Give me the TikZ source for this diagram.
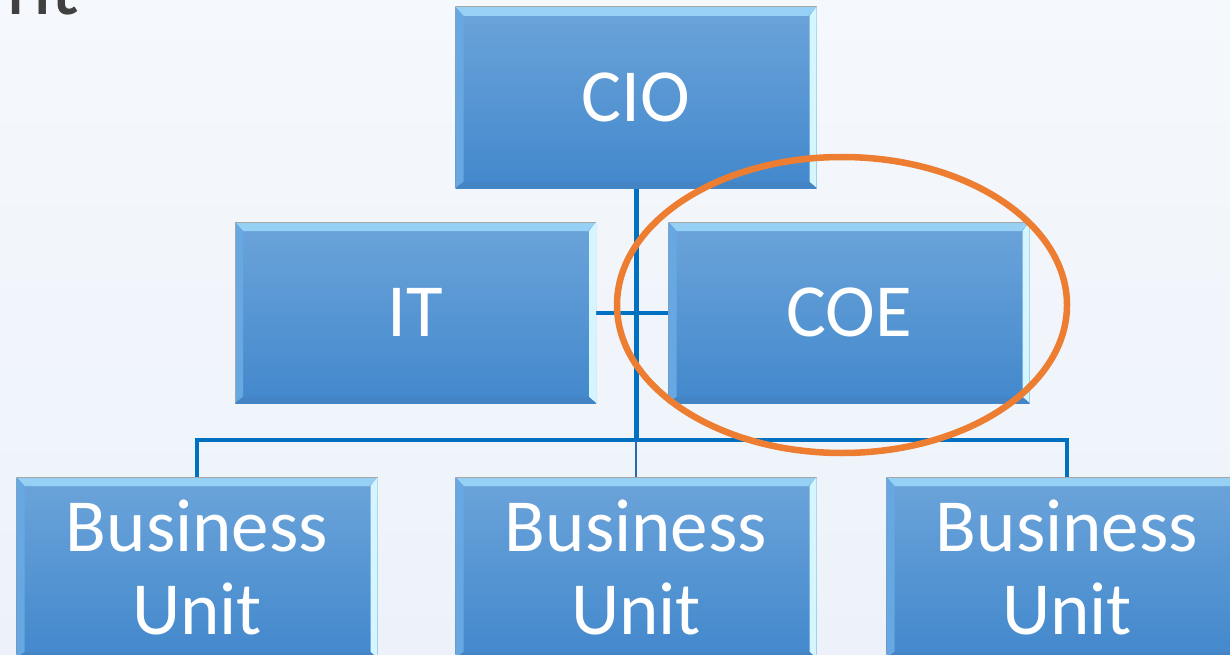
\documentclass[tikz,border=0pt]{standalone}
\usepackage{fontspec}
\setmainfont{Carlito}
\usetikzlibrary{calc}
\definecolor{bgtop}{RGB}{245,248,252}
\definecolor{bgbot}{RGB}{237,242,250}
\definecolor{boxtop}{RGB}{108,164,218}
\definecolor{boxbot}{RGB}{66,136,204}
\definecolor{bevtop}{RGB}{150,208,244}
\definecolor{bevleft}{RGB}{104,168,226}
\definecolor{bevright}{RGB}{214,246,255}
\definecolor{bevbot}{RGB}{68,132,196}
\definecolor{connblue}{RGB}{0,112,192}
\definecolor{dropblue}{RGB}{40,105,175}
\definecolor{ringorange}{RGB}{237,125,49}
\definecolor{titlegray}{RGB}{64,64,64}
\pgfdeclarelayer{bglayer}
\pgfdeclarelayer{connlayer}
\pgfsetlayers{bglayer,connlayer,main}
\tikzset{
  orgbox/.style={
    minimum width=361pt, minimum height=181pt, inner sep=0pt,
    top color=boxtop, bottom color=boxbot,
    text=white, align=center,
    font=\fontsize{75}{83}\selectfont,
    path picture={
      \coordinate (pnw) at (path picture bounding box.north west);
      \coordinate (pne) at (path picture bounding box.north east);
      \coordinate (psw) at (path picture bounding box.south west);
      \coordinate (pse) at (path picture bounding box.south east);
      \fill[bevtop] (pnw) -- (pne) -- ($(pne)+(-8pt,-9pt)$) -- ($(pnw)+(8pt,-9pt)$) -- cycle;
      \fill[bevleft] (pnw) -- ($(pnw)+(8pt,-9pt)$) -- ($(psw)+(8pt,6pt)$) -- (psw) -- cycle;
      \fill[bevright] (pne) -- (pse) -- ($(pse)+(-7pt,6pt)$) -- ($(pne)+(-7pt,-9pt)$) -- cycle;
      \fill[bevbot] (psw) -- (pse) -- ($(pse)+(-7pt,6pt)$) -- ($(psw)+(8pt,6pt)$) -- cycle;
      \draw[gray!70,line width=1pt] (psw) -- (pnw) -- (pne);
    }
  },
  conn/.style={connblue, line width=4pt, line join=miter},
  trunkconn/.style={connblue, line width=5pt},
  dropconn/.style={dropblue, line width=2.5pt},
  ring/.style={ringorange, line width=6.5pt}
}
\begin{document}
\begin{tikzpicture}[x=1pt,y=-1pt]
\useasboundingbox (0,0) rectangle (1230,655);
\clip (0,0) rectangle (1230,655);
\begin{pgfonlayer}{bglayer}
\shade[top color=bgtop, bottom color=bgbot] (0,0) rectangle (1230,655);
\end{pgfonlayer}

\node[anchor=base west, text=titlegray, font=\fontsize{86}{90}\selectfont, inner sep=0pt] (title) at (6,15) {nt};

\coordinate (bus) at (636,440);

\node[orgbox] (cio) at (636,97.5) {CIO};
\node[orgbox] (it) at (415.5,312.5) {IT};
\node[orgbox] (coe) at (849,312.5) {COE};
\node[orgbox] (bu1) at (197,567.5) {Business\\Unit};
\node[orgbox] (bu2) at (636,567.5) {Business\\Unit};
\node[orgbox] (bu3) at (1067,567.5) {Business\\Unit};

\begin{pgfonlayer}{connlayer}
\draw[trunkconn] (cio.south) -- (bus);
\draw[conn] (it.east) -- (coe.west);
\draw[conn] (bu1.north) |- (bus) -| (bu3.north);
\draw[dropconn] (bus) -- (bu2.north);
\end{pgfonlayer}

\draw[ring] (842,305) ellipse [x radius=225pt, y radius=148pt];
\end{tikzpicture}
\end{document}
